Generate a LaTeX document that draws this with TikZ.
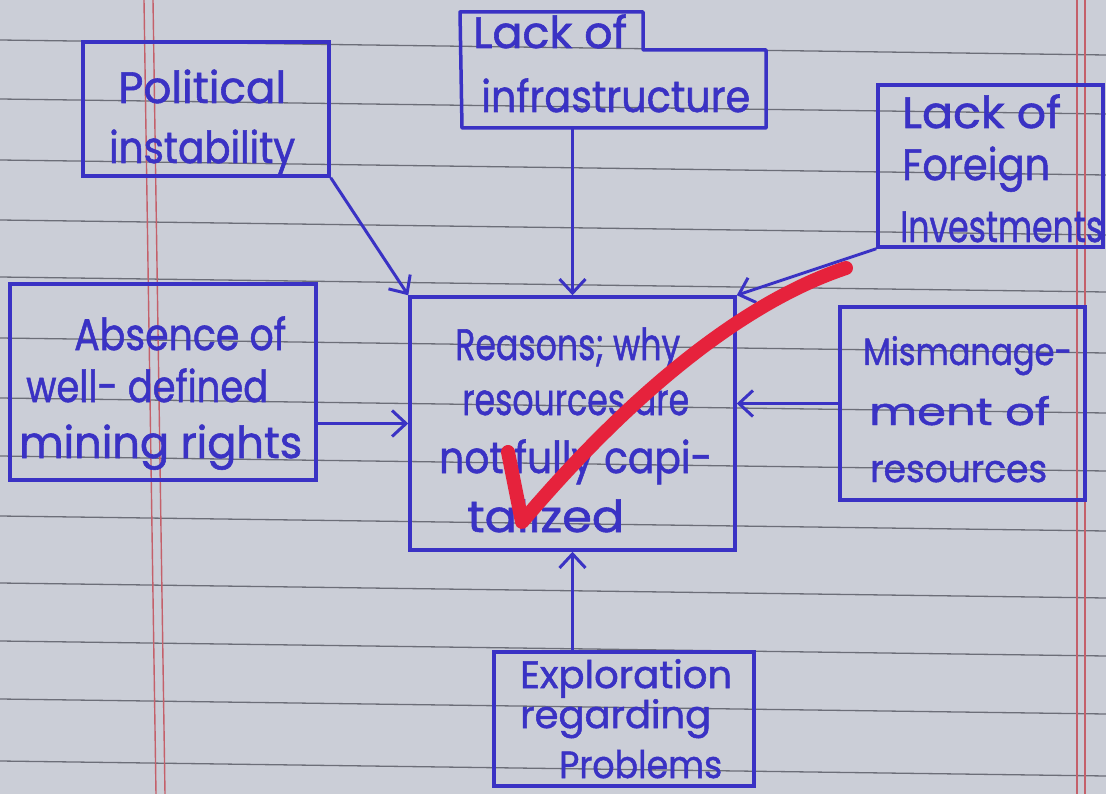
\documentclass[tikz,border=0pt]{standalone}
\usepackage{fontspec}
\setmainfont{Poppins}
\newfontfamily\hand{Poppins}[FakeBold=1.3]
\usepackage{graphicx}
\usetikzlibrary{arrows.meta}
\definecolor{paper}{RGB}{203,206,215}
\definecolor{ink}{RGB}{58,50,196}
\definecolor{rulecol}{RGB}{108,110,120}
\definecolor{margincol}{RGB}{196,96,106}
\definecolor{checkcol}{RGB}{230,34,60}
\newcommand{\hw}[2]{\resizebox{#1pt}{\height}{#2}}
\begin{document}
\begin{tikzpicture}[x=1pt,y=-1pt,
  box/.style={draw=ink, line width=3.5pt, rectangle, inner sep=0pt},
  conn/.style={draw=ink, line width=3pt, -{Straight Barb[length=14pt,width=26pt]}},
  txt/.style={text=ink, inner sep=0pt, anchor=base west, font=\hand\fontsize{44}{52}\selectfont},
  small/.style={font=\hand\fontsize{38}{44}\selectfont},
  ruled/.style={draw=rulecol, line width=1.3pt},
  marg/.style={draw=margincol, line width=1.4pt}
]
\useasboundingbox (0,0) rectangle (1106,794);
\clip (0,0) rectangle (1106,794);
\fill[paper] (0,0) rectangle (1106,794);
% ruled notebook lines
\foreach \yy in {40,99,160,220,277,338,398,456,516,583,641,699,761}
  \draw[ruled] (0,\yy) -- (1106,\yy+15);
% margin lines
\draw[marg] (144,0) -- (156,794);
\draw[marg] (153,0) -- (165,794);
\draw[marg] (1077,0) -- (1077,794);
\draw[marg] (1085,0) -- (1085,794);

% boxes
\node[box, minimum width=246pt, minimum height=134pt] (pol) at (206,109) {};
\node[inner sep=0pt, minimum width=304pt, minimum height=116pt] (infra) at (614,70) {};
\draw[ink, line width=3.5pt, line join=round] (460,12) -- (643,12) -- (643,50) -- (766,50) -- (766,128) -- (462,128) -- cycle;
\node[box, minimum width=225pt, minimum height=162pt] (foreign) at (990.5,166) {};
\node[box, minimum width=306pt, minimum height=196pt] (absence) at (163,382) {};
\node[box, minimum width=325pt, minimum height=253pt] (center) at (572.5,423.5) {};
\node[box, minimum width=245pt, minimum height=193pt] (mism) at (962.5,403.5) {};
\node[box, minimum width=260pt, minimum height=134pt] (expl) at (624,719) {};

% texts
\node[txt] (pol1) at (118,103) {\hw{168}{Political}};
\node[txt] (pol2) at (109,163) {\hw{186}{instability}};
\node[txt] (inf1) at (473,48) {\hw{154}{Lack of}};
\node[txt] (inf2) at (481,112) {\hw{269}{infrastructure}};
\node[txt] (for1) at (902,128) {\hw{159}{Lack of}};
\node[txt] (for2) at (902,180) {\hw{148}{Foreign}};
\node[txt] (for3) at (900,242) {\hw{203}{Investments}};
\node[txt] (abs1) at (74,350) {\hw{212}{Absence of}};
\node[txt] (abs2) at (26,402) {\hw{242}{well- defined}};
\node[txt] (abs3) at (19,458) {\hw{283}{mining rights}};
\node[txt] (cen1) at (455,360) {\hw{225}{Reasons; why}};
\node[txt] (cen2) at (462,415) {\hw{227}{resources are}};
\node[txt] (cen3) at (439,473) {\hw{273}{not fully capi-}};
\node[txt] (cen4) at (467,532) {\hw{157}{talized}};
\node[txt, small] (mis1) at (863,365) {\hw{209}{Mismanage-}};
\node[txt, small] (mis2) at (869,425) {\hw{181}{ment of}};
\node[txt, small] (mis3) at (870,482) {\hw{177}{resources}};
\node[txt, small] (exp1) at (520,688) {\hw{212}{Exploration}};
\node[txt, small] (exp2) at (520,728) {\hw{191}{regarding}};
\node[txt, small] (exp3) at (559,778) {\hw{163}{Problems}};

% connectors
\draw[conn] (pol.south east) -- (center.north west);
\draw[conn] (infra.south -| center.north) -- (center.north);
\draw[conn] (foreign.south west) -- (center.north east);
\draw[conn] (absence.east |- center.west) -- (center.west);
\draw[conn] (mism.west) -- (center.east |- mism.west);
\draw[conn] (expl.north -| center.south) -- (center.south);

% red check mark
\draw[checkcol, line width=14pt, line cap=round, line join=round]
  (508,452) -- (522,522) .. controls (600,430) and (720,310) .. (846,268);
\end{tikzpicture}
\end{document}
